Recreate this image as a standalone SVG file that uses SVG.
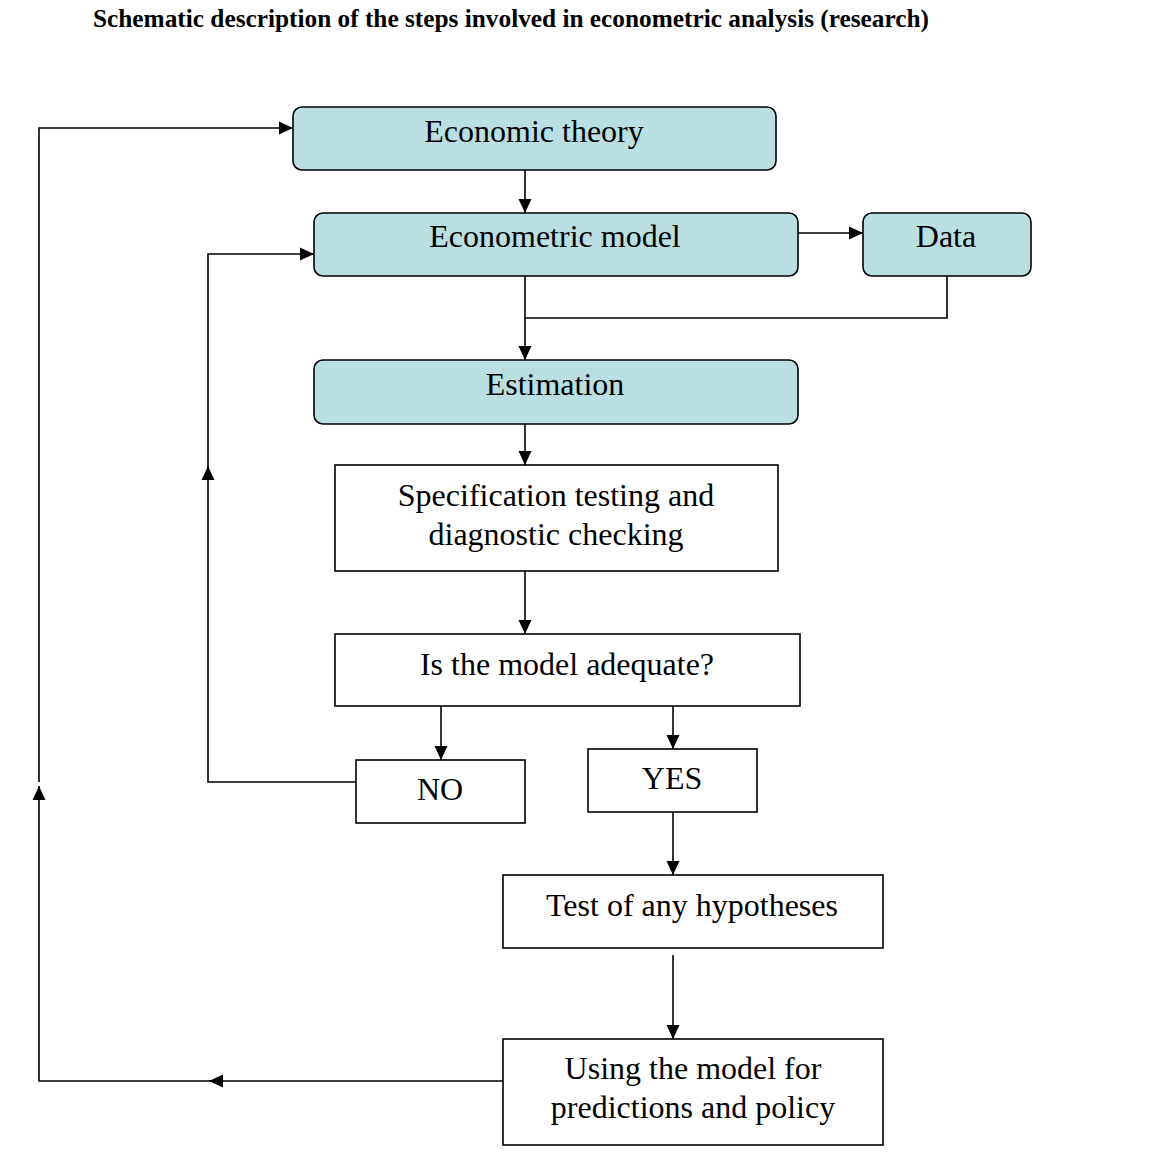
<svg xmlns="http://www.w3.org/2000/svg" width="1152" height="1162" viewBox="0 0 1152 1162">
<style>
.t{font-family:"Liberation Serif","Times New Roman",serif;font-size:32px;fill:#000;text-anchor:middle}
.title{font-family:"Liberation Serif","Times New Roman",serif;font-size:25px;font-weight:bold;fill:#000}
.r{fill:#b9dfe2;stroke:#000;stroke-width:1.6}
.s{fill:#fff;stroke:#000;stroke-width:1.6}
.c{fill:none;stroke:#000;stroke-width:1.6}
</style>
<defs>
<marker id="ah" markerUnits="userSpaceOnUse" markerWidth="15" markerHeight="15" viewBox="0 0 15 15" refX="14" refY="7.5" orient="auto">
<path d="M0,1 L14,7.5 L0,14 Z" fill="#000"/>
</marker>
</defs>
<text class="title" x="93" y="27" textLength="836" lengthAdjust="spacingAndGlyphs">Schematic description of the steps involved in econometric analysis (research)</text>
<g id="connectors">
<path class="c" d="M525,170 V213" marker-end="url(#ah)"/>
<path class="c" d="M798,233 H863" marker-end="url(#ah)"/>
<path class="c" d="M525,276 V360" marker-end="url(#ah)"/>
<path class="c" d="M947,276 V318 H525"/>
<path class="c" d="M525,424 V465" marker-end="url(#ah)"/>
<path class="c" d="M525,571 V634" marker-end="url(#ah)"/>
<path class="c" d="M441,697 V760" marker-end="url(#ah)"/>
<path class="c" d="M673,706 V749" marker-end="url(#ah)"/>
<path class="c" d="M356,782 H208 V466" marker-end="url(#ah)"/>
<path class="c" d="M208,470 V254 H314" marker-end="url(#ah)"/>
<path class="c" d="M673,812 V875" marker-end="url(#ah)"/>
<path class="c" d="M673,955 V1039" marker-end="url(#ah)"/>
<path class="c" d="M503,1081 H209" marker-end="url(#ah)"/>
<path class="c" d="M215,1081 H39 V786" marker-end="url(#ah)"/>
<path class="c" d="M39,782 V128 H293" marker-end="url(#ah)"/>
</g>
<g id="economic-theory"><rect class="r" x="293" y="107" width="483" height="63" rx="9"/><text class="t" x="534" y="142">Economic theory</text></g>
<g id="econometric-model"><rect class="r" x="314" y="213" width="484" height="63" rx="9"/><text class="t" x="555" y="247">Econometric model</text></g>
<g id="data"><rect class="r" x="863" y="213" width="168" height="63" rx="9"/><text class="t" x="946" y="247">Data</text></g>
<g id="estimation"><rect class="r" x="314" y="360" width="484" height="64" rx="9"/><text class="t" x="555" y="395">Estimation</text></g>
<g id="specification"><rect class="s" x="335" y="465" width="443" height="106"/><text class="t" x="556" y="506">Specification testing and</text><text class="t" x="556" y="545">diagnostic checking</text></g>
<g id="adequate"><rect class="s" x="335" y="634" width="465" height="72"/><text class="t" x="567" y="675">Is the model adequate?</text></g>
<g id="no"><rect class="s" x="356" y="760" width="169" height="63"/><text class="t" x="440" y="800">NO</text></g>
<g id="yes"><rect class="s" x="588" y="749" width="169" height="63"/><text class="t" x="672" y="789">YES</text></g>
<g id="test"><rect class="s" x="503" y="875" width="380" height="73"/><text class="t" x="692" y="916">Test of any hypotheses</text></g>
<g id="using"><rect class="s" x="503" y="1039" width="380" height="106"/><text class="t" x="693" y="1079">Using the model for</text><text class="t" x="693" y="1118">predictions and policy</text></g>
</svg>
